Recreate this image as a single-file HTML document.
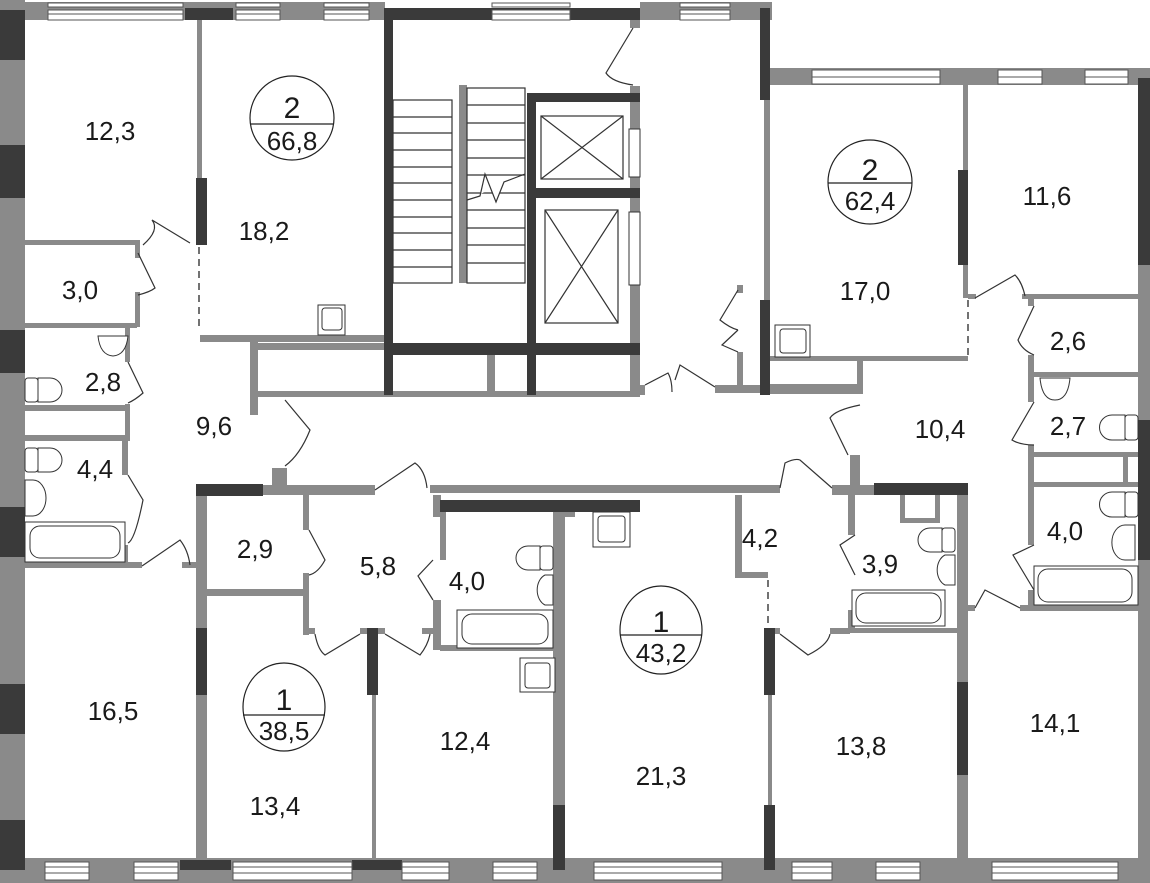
<!DOCTYPE html>
<html><head><meta charset="utf-8"><style>
html,body{margin:0;padding:0;background:#fff;}
svg{display:block;}
text{font-family:"Liberation Sans",Arial,sans-serif;font-size:26px;fill:#1a1a1a;text-anchor:middle;}
</style></head><body>
<svg width="1150" height="883" viewBox="0 0 1150 883" xmlns="http://www.w3.org/2000/svg">
<g fill="#8a8a8a">
<rect x="0" y="2" width="385" height="18"/>
<rect x="0" y="0" width="25" height="883"/>
<rect x="640" y="2" width="132" height="18"/>
<rect x="764" y="68" width="386" height="17"/>
<rect x="1138" y="68" width="12" height="815"/>
<rect x="0" y="858" width="1150" height="25"/>
<rect x="764" y="100" width="6" height="200"/>
<rect x="197" y="20" width="5" height="160"/>
<rect x="25" y="240" width="115" height="5"/>
<rect x="135" y="240" width="5" height="18"/>
<rect x="135" y="292" width="5" height="35"/>
<rect x="25" y="323" width="112" height="5"/>
<rect x="125" y="328" width="5" height="34"/>
<rect x="125" y="404" width="5" height="36"/>
<rect x="25" y="405" width="105" height="6"/>
<rect x="25" y="435" width="105" height="6"/>
<rect x="122" y="440" width="6" height="35"/>
<rect x="122" y="545" width="6" height="22"/>
<rect x="25" y="562" width="117" height="6"/>
<rect x="182" y="562" width="20" height="6"/>
<rect x="200" y="335" width="185" height="7"/>
<rect x="250" y="340" width="8" height="75"/>
<rect x="258" y="343" width="127" height="7"/>
<rect x="258" y="391" width="382" height="6"/>
<rect x="272" y="468" width="15" height="20"/>
<rect x="263" y="485" width="112" height="10"/>
<rect x="430" y="485" width="350" height="8"/>
<rect x="832" y="485" width="42" height="10"/>
<rect x="850" y="455" width="10" height="32"/>
<rect x="196" y="495" width="11" height="135"/>
<rect x="207" y="589" width="98" height="7"/>
<rect x="303" y="495" width="6" height="35"/>
<rect x="303" y="573" width="6" height="62"/>
<rect x="303" y="628" width="12" height="6"/>
<rect x="360" y="628" width="25" height="6"/>
<rect x="422" y="628" width="18" height="6"/>
<rect x="433" y="495" width="8" height="22"/>
<rect x="433" y="600" width="8" height="50"/>
<rect x="440" y="645" width="120" height="6"/>
<rect x="440" y="512" width="6" height="48"/>
<rect x="196" y="695" width="11" height="165"/>
<rect x="372" y="695" width="4" height="165"/>
<rect x="553" y="512" width="12" height="293"/>
<rect x="565" y="512" width="10" height="5"/>
<rect x="630" y="20" width="10" height="8"/>
<rect x="630" y="86" width="10" height="259"/>
<rect x="487" y="355" width="8" height="38"/>
<rect x="459" y="85" width="8" height="198"/>
<rect x="630" y="355" width="10" height="38"/>
<rect x="737" y="285" width="6" height="8"/>
<rect x="737" y="352" width="6" height="40"/>
<rect x="640" y="385" width="5" height="10"/>
<rect x="715" y="385" width="45" height="8"/>
<rect x="963" y="85" width="5" height="85"/>
<rect x="963" y="265" width="5" height="33"/>
<rect x="968" y="294" width="8" height="5"/>
<rect x="1022" y="294" width="116" height="5"/>
<rect x="1028" y="294" width="6" height="12"/>
<rect x="1028" y="355" width="6" height="47"/>
<rect x="1028" y="445" width="6" height="100"/>
<rect x="1028" y="590" width="6" height="20"/>
<rect x="1034" y="372" width="104" height="5"/>
<rect x="1034" y="452" width="104" height="5"/>
<rect x="1034" y="482" width="104" height="5"/>
<rect x="1123" y="457" width="5" height="25"/>
<rect x="1020" y="605" width="118" height="6"/>
<rect x="968" y="605" width="7" height="6"/>
<rect x="770" y="356" width="198" height="5"/>
<rect x="857" y="360" width="6" height="25"/>
<rect x="770" y="384" width="93" height="10"/>
<rect x="957" y="495" width="11" height="187"/>
<rect x="957" y="775" width="11" height="85"/>
<rect x="848" y="495" width="7" height="40"/>
<rect x="848" y="610" width="7" height="22"/>
<rect x="848" y="628" width="112" height="5"/>
<rect x="900" y="495" width="5" height="27"/>
<rect x="900" y="518" width="40" height="5"/>
<rect x="935" y="495" width="5" height="27"/>
<rect x="735" y="495" width="7" height="82"/>
<rect x="735" y="572" width="33" height="6"/>
<rect x="775" y="628" width="5" height="6"/>
<rect x="830" y="628" width="20" height="6"/>
<rect x="768" y="695" width="4" height="110"/>
</g>
<g fill="#3a3a3a">
<rect x="0" y="10" width="25" height="50"/>
<rect x="0" y="145" width="25" height="53"/>
<rect x="0" y="330" width="25" height="43"/>
<rect x="0" y="507" width="25" height="50"/>
<rect x="0" y="684" width="25" height="50"/>
<rect x="0" y="820" width="25" height="50"/>
<rect x="185" y="8" width="48" height="12"/>
<rect x="384" y="8" width="256" height="12"/>
<rect x="384" y="8" width="9" height="387"/>
<rect x="393" y="343" width="247" height="12"/>
<rect x="527" y="93" width="9" height="302"/>
<rect x="536" y="93" width="104" height="9"/>
<rect x="536" y="188" width="104" height="10"/>
<rect x="760" y="8" width="10" height="92"/>
<rect x="760" y="300" width="10" height="95"/>
<rect x="1138" y="78" width="12" height="187"/>
<rect x="1138" y="420" width="12" height="140"/>
<rect x="196" y="178" width="11" height="67"/>
<rect x="958" y="170" width="10" height="95"/>
<rect x="196" y="484" width="67" height="12"/>
<rect x="440" y="500" width="200" height="12"/>
<rect x="874" y="483" width="94" height="12"/>
<rect x="196" y="628" width="11" height="67"/>
<rect x="367" y="628" width="11" height="67"/>
<rect x="553" y="805" width="12" height="65"/>
<rect x="764" y="628" width="11" height="67"/>
<rect x="764" y="805" width="11" height="65"/>
<rect x="957" y="682" width="11" height="93"/>
<rect x="180" y="860" width="51" height="10"/>
<rect x="352" y="860" width="50" height="10"/>
</g>
<g fill="#fff" stroke="#555" stroke-width="1">
<rect x="48" y="3" width="135" height="4"/><rect x="48" y="10" width="135" height="10"/>
<rect x="236" y="3" width="44" height="4"/><rect x="236" y="10" width="44" height="10"/>
<rect x="324" y="3" width="45" height="4"/><rect x="324" y="10" width="45" height="10"/>
<rect x="492" y="3" width="78" height="4"/><rect x="492" y="10" width="78" height="10"/>
<rect x="680" y="3" width="50" height="4"/><rect x="680" y="10" width="50" height="10"/>
<rect x="812" y="70" width="128" height="14"/>
<rect x="998" y="70" width="44" height="14"/>
<rect x="1085" y="70" width="43" height="14"/>
<rect x="45" y="862" width="44" height="18"/>
<rect x="134" y="862" width="44" height="18"/>
<rect x="233" y="862" width="119" height="18"/>
<rect x="402" y="862" width="47" height="18"/>
<rect x="493" y="862" width="44" height="18"/>
<rect x="594" y="862" width="128" height="18"/>
<rect x="792" y="862" width="40" height="18"/>
<rect x="876" y="862" width="44" height="18"/>
<rect x="992" y="862" width="126" height="18"/>
</g>
<g stroke="#555" stroke-width="1">
<path d="M48 14H183M236 14H280M324 14H369M492 14H570M680 14H730M812 77H940M998 77H1042M1085 77H1128M45 867H89M45 873H89M134 867H178M134 873H178M233 867H352M233 873H352M402 867H449M402 873H449M493 867H537M493 873H537M594 867H722M594 873H722M792 867H832M792 873H832M876 867H920M876 873H920M992 867H1118M992 873H1118"/>
</g>
<g fill="none" stroke="#333" stroke-width="1.2">
<rect x="393" y="100" width="59" height="183"/>
<path d="M393 117H452M393 133H452M393 150H452M393 167H452M393 183H452M393 200H452M393 217H452M393 233H452M393 250H452M393 267H452"/>
<rect x="467" y="88" width="58" height="195"/>
<path d="M467 105H525M467 123H525M467 140H525M467 158H525M467 175H525M467 193H525M467 210H525M467 228H525M467 245H525M467 263H525"/>
<path d="M467 200L480 196L485 174L496 202L504 182L525 174" fill="#fff"/>
<rect x="541" y="116" width="82" height="63"/><path d="M541 116L623 179M623 116L541 179"/>
<rect x="545" y="210" width="73" height="113"/><path d="M545 210L618 323M618 210L545 323"/>
</g>
<g fill="#fff" stroke="#333" stroke-width="1"><rect x="629" y="129" width="11" height="48"/><rect x="629" y="212" width="11" height="73"/></g>
<g fill="none" stroke="#333" stroke-width="1.2">
<path d="M633 28L606 73Q612 82 633 85"/>
<path d="M738 290L720 320Q730 328 738 330"/>
<path d="M738 330L722 345L738 352"/>
<path d="M645 385L668 373Q672 380 672 392M675 380L680 365L715 387"/>
<path d="M143 245Q160 230 152 220L190 243"/>
<path d="M138 253L155 288Q150 292 138 295"/>
<path d="M128 362L143 393Q135 400 128 403"/>
<path d="M128 475L143 500Q135 540 128 543"/>
<path d="M142 566L180 540Q188 550 190 565"/>
<path d="M285 400L310 430Q300 455 285 466"/>
<path d="M375 490L415 463Q425 470 427 488"/>
<path d="M309 530L325 560Q318 573 309 575"/>
<path d="M433 560L418 576L433 600"/>
<path d="M315 634Q318 650 325 655L360 634"/>
<path d="M385 634L420 655Q428 645 430 634"/>
<path d="M860 405Q835 410 830 418L848 455"/>
<path d="M780 488L785 463Q795 458 800 460L832 488"/>
<path d="M855 535L840 545L855 575"/>
<path d="M780 634L808 655Q828 645 830 634"/>
<path d="M975 298L1015 275Q1022 282 1025 296"/>
<path d="M1034 306L1018 340Q1022 350 1034 355"/>
<path d="M1034 402L1012 440Q1020 445 1034 445"/>
<path d="M1034 545L1013 555L1034 590"/>
<path d="M975 608L985 590L1020 608"/>
</g>
<g stroke="#444" stroke-width="1.5" stroke-dasharray="7,5">
<path d="M199 247V330M968 300V358M768 580V626"/>
</g>
<g fill="#fff" stroke="#333" stroke-width="1">
<rect x="318" y="305" width="27" height="30"/><rect x="322" y="308" width="20" height="22" rx="3"/>
<rect x="775" y="325" width="35" height="32"/><rect x="780" y="329" width="26" height="24" rx="3"/>
<rect x="593" y="512" width="37" height="35"/><rect x="598" y="516" width="27" height="26" rx="3"/>
<rect x="520" y="658" width="35" height="34"/><rect x="525" y="663" width="25" height="25" rx="3"/>
<path d="M98 336H128Q126 355 113 356Q100 355 98 336Z"/>
<rect x="25" y="378" width="13" height="24" rx="3"/><path d="M38 378H50A12 12 0 0 1 50 402H38Z"/>
<rect x="25" y="448" width="13" height="24" rx="3"/><path d="M38 448H50A12 12 0 0 1 50 472H38Z"/>
<path d="M25 480H33A13 18 0 0 1 33 516H25Z"/>
<rect x="25" y="522" width="100" height="40"/><rect x="30" y="526" width="90" height="32" rx="10"/>
<rect x="540" y="546" width="13" height="24" rx="3"/><path d="M540 546H528A12 12 0 0 0 528 570H540Z"/>
<path d="M553 575H545A12 16 0 0 0 545 605H553Z"/>
<rect x="457" y="610" width="96" height="38"/><rect x="462" y="614" width="86" height="30" rx="10"/>
<rect x="942" y="528" width="13" height="24" rx="3"/><path d="M942 528H930A12 12 0 0 0 930 552H942Z"/>
<path d="M955 555H945A12 16 0 0 0 945 585H955Z"/>
<rect x="852" y="590" width="93" height="36"/><rect x="856" y="593" width="85" height="30" rx="10"/>
<path d="M1040 378H1070Q1068 400 1055 400Q1042 400 1040 378Z"/>
<rect x="1125" y="415" width="13" height="25" rx="3"/><path d="M1125 415H1112A12 12 0 0 0 1112 440H1125Z"/>
<rect x="1125" y="492" width="13" height="25" rx="3"/><path d="M1125 492H1112A12 12 0 0 0 1112 517H1125Z"/>
<path d="M1135 525H1125A12 16 0 0 0 1125 560H1135Z"/>
<rect x="1034" y="566" width="104" height="39"/><rect x="1038" y="569" width="94" height="33" rx="10"/>
</g>
<g fill="none" stroke="#222" stroke-width="1.2">
<circle cx="292" cy="118" r="42"/><path d="M250 124H334"/>
<circle cx="870" cy="182" r="42"/><path d="M828 183H912"/>
<ellipse cx="284" cy="707" rx="41" ry="44"/><path d="M243 715H325"/>
<ellipse cx="661" cy="630" rx="41" ry="44"/><path d="M620 635H702"/>
</g>
<text x="292" y="118" style="font-size:30px">2</text><text x="292" y="150">66,8</text>
<text x="870" y="180" style="font-size:30px">2</text><text x="870" y="210">62,4</text>
<text x="284" y="710" style="font-size:30px">1</text><text x="284" y="740">38,5</text>
<text x="661" y="632" style="font-size:30px">1</text><text x="661" y="662">43,2</text>
<text x="110" y="140">12,3</text>
<text x="264" y="240">18,2</text>
<text x="80" y="299">3,0</text>
<text x="103" y="391">2,8</text>
<text x="214" y="435">9,6</text>
<text x="95" y="478">4,4</text>
<text x="255" y="558">2,9</text>
<text x="378" y="575">5,8</text>
<text x="467" y="590">4,0</text>
<text x="113" y="720">16,5</text>
<text x="275" y="815">13,4</text>
<text x="465" y="750">12,4</text>
<text x="661" y="785">21,3</text>
<text x="861" y="755">13,8</text>
<text x="1055" y="732">14,1</text>
<text x="760" y="547">4,2</text>
<text x="880" y="573">3,9</text>
<text x="940" y="438">10,4</text>
<text x="1068" y="350">2,6</text>
<text x="1068" y="435">2,7</text>
<text x="1065" y="540">4,0</text>
<text x="865" y="300">17,0</text>
<text x="1047" y="205">11,6</text>
</svg>
</body></html>
